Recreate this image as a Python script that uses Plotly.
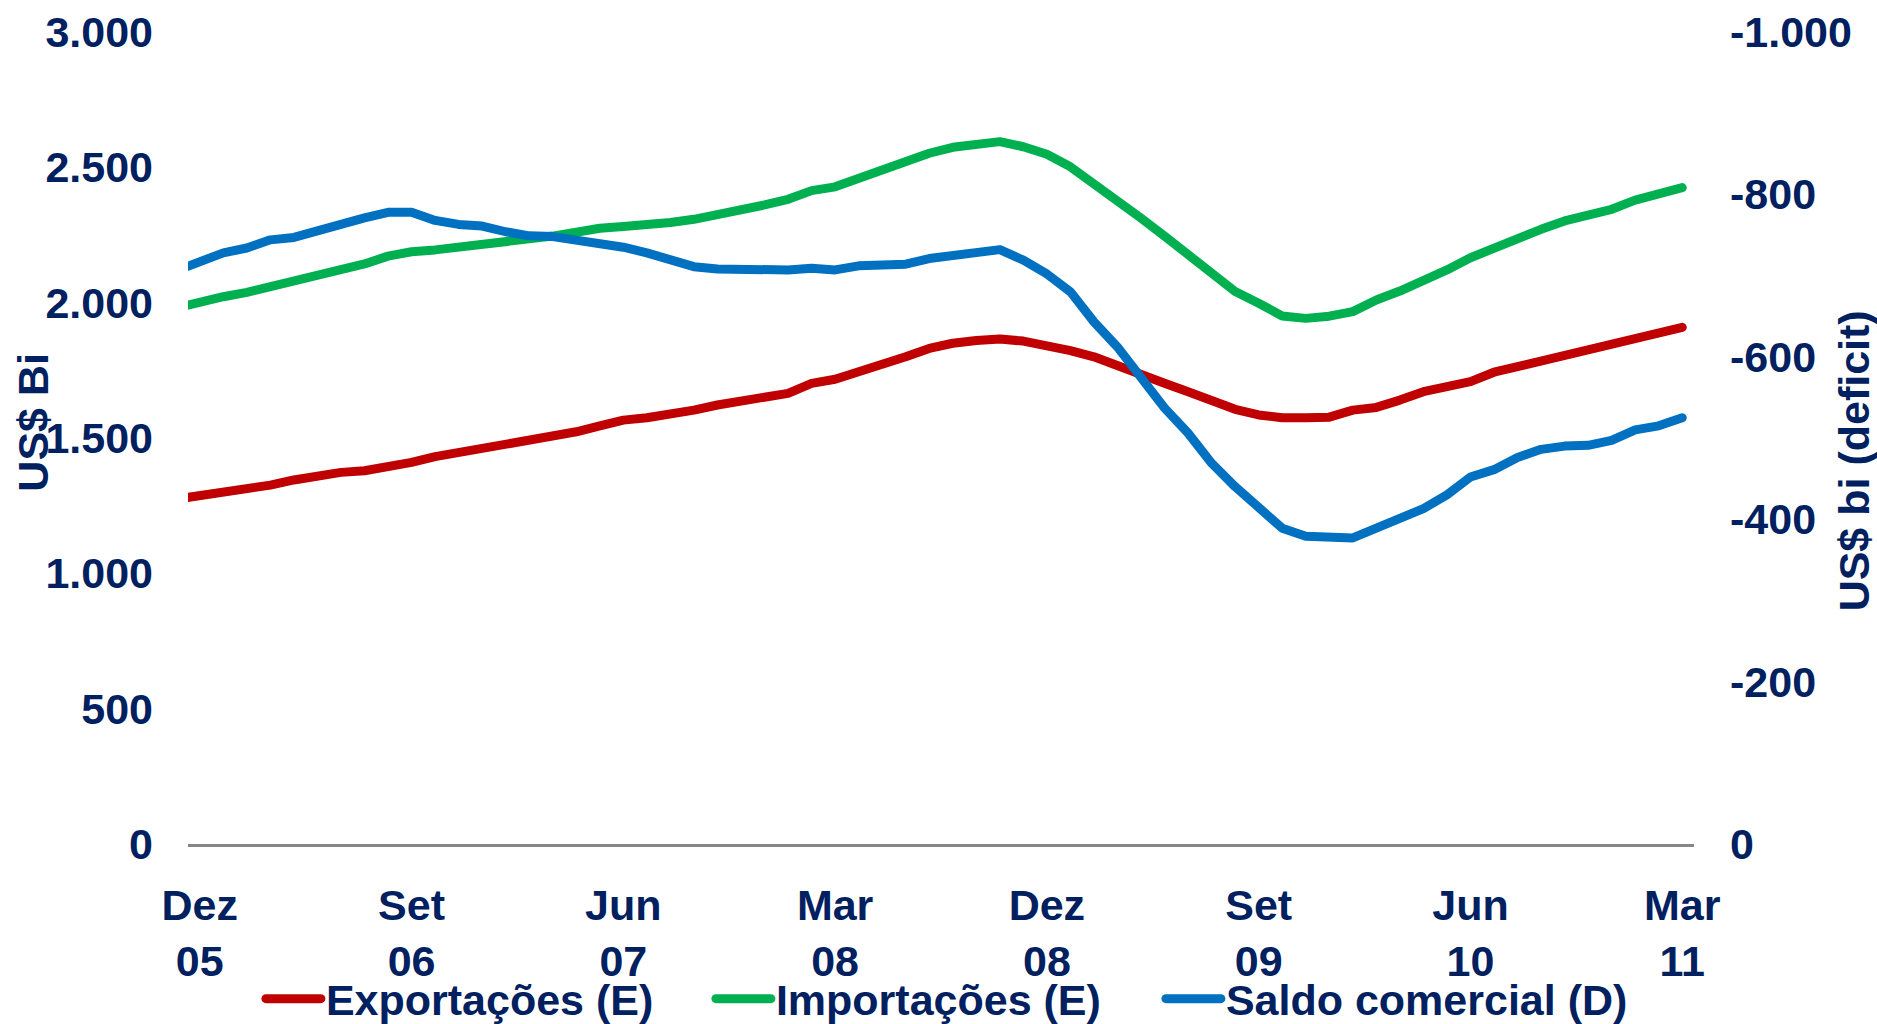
import plotly.graph_objects as go

# ---- data (monthly, Nov 05 .. Mar 11; Nov 05 only shows as the clipped stub at the left edge)
month_abbr = ["Jan", "Fev", "Mar", "Abr", "Mai", "Jun", "Jul", "Ago", "Set", "Out", "Nov", "Dez"]
months = ["Nov 05", "Dez 05"] + [f"{m} {y:02d}" for y in range(6, 11) for m in month_abbr] + ["Jan 11", "Fev 11", "Mar 11"]

exportacoes = [1274,
               1286, 1296, 1310, 1326, 1345, 1361, 1373, 1379, 1392, 1410, 1431, 1446, 1462, 1478, 1495, 1511,
               1523, 1545, 1566, 1575, 1585, 1603, 1622, 1634, 1653, 1665, 1702, 1717, 1745, 1770, 1800, 1831,
               1850, 1860, 1866, 1858, 1844, 1823, 1800, 1770, 1739, 1702, 1671, 1634, 1606, 1585, 1575, 1575,
               1577, 1603, 1613, 1640, 1671, 1690, 1708, 1743, 1764, 1778, 1800, 1823, 1847, 1868, 1889, 1909]

importacoes = [1980,
               2004, 2022, 2038, 2059, 2084, 2106, 2121, 2143, 2172, 2188, 2195, 2204, 2219, 2228, 2238, 2246,
               2260, 2275, 2281, 2287, 2296, 2308, 2324, 2345, 2361, 2382, 2414, 2428, 2459, 2490, 2515, 2552,
               2574, 2586, 2595, 2576, 2548, 2502, 2441, 2376, 2312, 2246, 2176, 2102, 2041, 1998, 1951, 1942,
               1950, 1967, 2010, 2043, 2078, 2121, 2166, 2204, 2241, 2271, 2302, 2320, 2345, 2379, 2404, 2425]

saldo = [-706,
         -717, -728, -734, -744, -747, -756, -763, -771, -778, -778, -768, -763, -761, -754, -749, -748,
         -744, -740, -735, -728, -719, -711, -708, -708, -706, -707, -709, -707, -712, -712, -714, -721,
         -725, -729, -732, -719, -702, -680, -643, -612, -576, -537, -506, -469, -440, -415, -389, -379,
         -379, -377, -389, -401, -413, -430, -452, -461, -476, -486, -490, -491, -497, -510, -515, -525]

x_tickvals = ["Dez 05", "Set 06", "Jun 07", "Mar 08", "Dez 08", "Set 09", "Jun 10", "Mar 11"]
x_ticktext = ["Dez<br>05", "Set<br>06", "Jun<br>07", "Mar<br>08", "Dez<br>08", "Set<br>09", "Jun<br>10", "Mar<br>11"]
left_tickvals = [0, 500, 1000, 1500, 2000, 2500, 3000]
left_ticktext = ["0", "500", "1.000", "1.500", "2.000", "2.500", "3.000"]
right_tickvals = [0, -200, -400, -600, -800, -1000]
right_ticktext = ["0", "-200", "-400", "-600", "-800", "-1.000"]

NAVY = "#002060"
FONT = dict(family="Liberation Sans, Arial, sans-serif", size=43, color=NAVY, weight="bold")

fig = go.Figure()
fig.add_trace(go.Scatter(x=months, y=exportacoes, name="Exportações (E)", mode="lines",
                         line=dict(color="#C00000", width=9), yaxis="y"))
fig.add_trace(go.Scatter(x=months, y=importacoes, name="Importações (E)", mode="lines",
                         line=dict(color="#00B050", width=9), yaxis="y"))
fig.add_trace(go.Scatter(x=months, y=saldo, name="Saldo comercial (D)", mode="lines",
                         line=dict(color="#0070C0", width=9), yaxis="y2"))

fig.update_layout(
    width=1877, height=1024,
    margin=dict(l=188, r=183, t=32, b=180, autoexpand=False),
    paper_bgcolor="white", plot_bgcolor="white",
    font=FONT,
    showlegend=True,
    legend=dict(orientation="h", x=0.065, xanchor="left", y=-0.148, yanchor="top",
                font=FONT, entrywidth=405, itemwidth=30, bgcolor="rgba(0,0,0,0)",
                traceorder="normal"),
    xaxis=dict(type="category", categoryorder="array", categoryarray=months,
               range=[0.5, len(months) - 0.5],
               tickmode="array", tickvals=x_tickvals, ticktext=x_ticktext,
               showgrid=False, zeroline=False, showline=True, linecolor="#868686", linewidth=3,
               ticks="", ticklabelstandoff=21, tickfont=FONT),
    yaxis=dict(range=[0, 3000], tickmode="array", tickvals=left_tickvals, ticktext=left_ticktext,
               showgrid=False, zeroline=False, showline=False, ticks="",
               ticklabelstandoff=34, tickfont=FONT),
    yaxis2=dict(range=[0, -1000], overlaying="y", side="right",
                tickmode="array", tickvals=right_tickvals, ticktext=right_ticktext,
                showgrid=False, zeroline=False, showline=False, ticks="",
                ticklabelstandoff=35, tickfont=FONT),
    annotations=[
        dict(text="US$ Bi", textangle=-90, xref="paper", yref="paper", x=-0.103, y=0.52,
             xanchor="center", yanchor="middle", showarrow=False, font=FONT),
        dict(text="US$ bi (deficit)", textangle=-90, xref="paper", yref="paper", x=1.106, y=0.472,
             xanchor="center", yanchor="middle", showarrow=False, font=FONT),
    ],
)

post = """
document.body.style.margin='0';
document.body.style.overflow='hidden';
function fixStyles(){
  document.querySelectorAll('.scatterlayer .js-line').forEach(function(p){
    p.style.strokeLinecap='round'; p.style.strokeLinejoin='round';
  });
  document.querySelectorAll('g.legend .scrollbox, g.legend').forEach(function(g){
    g.removeAttribute('clip-path');
  });
  document.querySelectorAll('g.legendlines path').forEach(function(p){
    p.setAttribute('d','M-20,0L35,0');
    p.style.strokeLinecap='round'; p.style.strokeWidth='9px';
  });
}
fixStyles();
var gdiv = document.getElementsByClassName('plotly-graph-div')[0];
if (gdiv && gdiv.on) { gdiv.on('plotly_afterplot', fixStyles); }
setTimeout(fixStyles, 50);
setTimeout(fixStyles, 300);
"""
fig.write_html("out.html", post_script=post, config={"displayModeBar": False})
